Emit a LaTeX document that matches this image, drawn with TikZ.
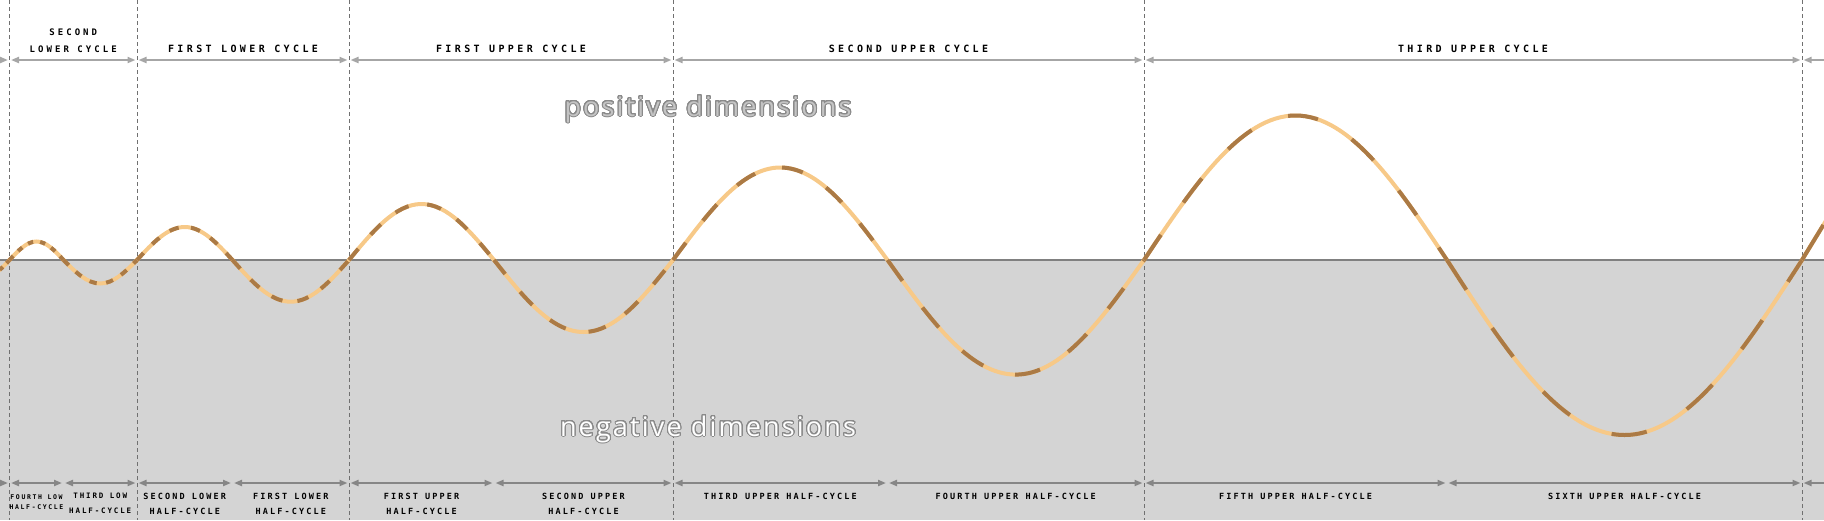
\documentclass[tikz,border=0pt]{standalone}
\usepackage{fontspec}
\usepackage{contour}
\usetikzlibrary{arrows.meta, positioning, calc}

\setmainfont{Open Sans}
\newfontfamily\bigfont[LetterSpace=8]{Open Sans}         % 正负区域大字
\newfontfamily\topfont[LetterSpace=34]{DejaVu Sans Mono} % 顶部周期标注
\newfontfamily\botfont[LetterSpace=25]{DejaVu Sans Mono} % 底部半周期标注

\definecolor{waveLight}{HTML}{F7C988}
\definecolor{waveDark}{HTML}{AB7A45}
\definecolor{negFill}{HTML}{D4D4D4}
\definecolor{axisGrey}{HTML}{808080}
\definecolor{guideGrey}{HTML}{707070}
\definecolor{topArrow}{HTML}{A6A6A6}
\definecolor{botArrow}{HTML}{868686}
\definecolor{posFill}{HTML}{C4C4C4}
\definecolor{textEdge}{HTML}{8A8A8A}

\contourlength{1pt}
\contournumber{40}

\tikzset{
  guide/.style={guideGrey, line width=1pt, dash pattern=on 4pt off 3pt},      % 竖向虚线
  toparrow/.style={topArrow, line width=2pt,
    arrows={Triangle[length=8pt,width=6pt]-Triangle[length=8pt,width=6pt]},
    shorten <=1.5pt, shorten >=1.5pt},
  botarrow/.style={toparrow, botArrow},
  cyclelabel/.style={font=\topfont\bfseries\fontsize{10}{16.6}\selectfont,
    anchor=base, align=center, inner sep=0pt},  % 多行时 base 为末行基线
  halflabel/.style={font=\botfont\bfseries\fontsize{8.5}{15}\selectfont,
    anchor=base, align=center, inner sep=0pt},
  wavebase/.style={waveLight, line width=4pt},
  wavedash/.style={waveDark, line width=4pt},
  bigtext/.style={font=\bigfont\fontsize{27}{30}\selectfont, anchor=base, inner sep=0pt},
}

\begin{document}
\begin{tikzpicture}[x=1pt, y=-1pt] % 像素坐标, y 向下
\useasboundingbox (0,0) rectangle (1824,520);
\begin{scope}
\clip (0,0) rectangle (1824,520);

% 负半区灰底和横轴
\fill[negFill] (0,260) rectangle (1824,520);
\draw[axisGrey, line width=1.5pt] (0,260) -- (1824,260);

% 竖向分界虚线
\foreach \x in {9.5,137,349,673,1144,1802}
  \draw[guide] (\x,0) -- (\x,520);

% 分界点坐标
\foreach \x [count=\i] in {-60,9.5,137,349,673,1144,1802,2300}
  \coordinate (top\i) at (\x,60);
\foreach \x [count=\i] in {-40,9.5,63.5,137,232.5,349,494,673,887.5,1144,1447,1802,2300}
  \coordinate (bot\i) at (\x,483);

% 双向箭头
\foreach \i [evaluate=\i as \j using int(\i+1)] in {1,...,7}
  \draw[toparrow] (top\i) -- (top\j);
\foreach \i [evaluate=\i as \j using int(\i+1)] in {1,...,12}
  \draw[botarrow] (bot\i) -- (bot\j);

% 波形: 每个半周期 sin + cos, 虚线随半周期长度缩放
\foreach \xa/\xb/\amp in {-32/9.5/14.5, 9.5/63.5/-18.5, 63.5/137/23.5, 137/232.5/-33,
    232.5/349/41.7, 349/494/-56, 494/673/72, 673/887.5/-92.5, 887.5/1144/114.6,
    1144/1447/-144.5, 1447/1802/175, 1802/2212/-215}{
  \pgfmathsetmacro\dashon{0.10*(\xb-\xa)}
  \pgfmathsetmacro\dashoff{0.13*(\xb-\xa)}
  \draw[wavebase] (\xa,260) sin ({(\xa+\xb)/2},{260+\amp}) cos (\xb,260);
  \draw[wavedash, dash pattern=on \dashon pt off \dashoff pt]
    (\xa,260) sin ({(\xa+\xb)/2},{260+\amp}) cos (\xb,260);
}
\end{scope}

% 顶部周期标注
\node[cyclelabel, font=\topfont\bfseries\fontsize{9}{16.6}\selectfont]
  (secondLower) at ($(top2)!0.5!(top3)+(0,-8)$) {SECOND\\LOWER CYCLE};
\node[cyclelabel] (firstLower)  at ($(top3)!0.5!(top4)+(0,-8)$) {FIRST LOWER CYCLE};
\node[cyclelabel] (firstUpper)  at ($(top4)!0.5!(top5)+(0,-8)$) {FIRST UPPER CYCLE};
\node[cyclelabel] (secondUpper) at ($(top5)!0.5!(top6)+(0,-8)$) {SECOND UPPER CYCLE};
\node[cyclelabel] (thirdUpper)  at ($(top6)!0.5!(top7)+(0,-8)$) {THIRD UPPER CYCLE};

% 底部半周期标注
\node[halflabel, font=\botfont\bfseries\fontsize{6.5}{10}\selectfont]
  (fourthLow) at ($(bot2)!0.5!(bot3)+(0,26)$) {FOURTH LOW\\HALF-CYCLE};
\node[halflabel, font=\botfont\bfseries\fontsize{7.5}{15}\selectfont]
  (thirdLow) at ($(bot3)!0.5!(bot4)+(0,30.5)$) {THIRD LOW\\HALF-CYCLE};
\node[halflabel] (secondLowerHalf) at ($(bot4)!0.5!(bot5)+(0,31)$) {SECOND LOWER\\HALF-CYCLE};
\node[halflabel] (firstLowerHalf)  at ($(bot5)!0.5!(bot6)+(0,31)$) {FIRST LOWER\\HALF-CYCLE};
\node[halflabel] (firstUpperHalf)  at ($(bot6)!0.5!(bot7)+(0,31)$) {FIRST UPPER\\HALF-CYCLE};
\node[halflabel] (secondUpperHalf) at ($(bot7)!0.5!(bot8)+(0,31)$) {SECOND UPPER\\HALF-CYCLE};
\node[halflabel] (thirdUpperHalf)  at ($(bot8)!0.5!(bot9)+(0,16)$) {THIRD UPPER HALF-CYCLE};
\node[halflabel] (fourthUpperHalf) at ($(bot9)!0.5!(bot10)+(0,16)$) {FOURTH UPPER HALF-CYCLE};
\node[halflabel] (fifthUpperHalf)  at ($(bot10)!0.5!(bot11)+(0,16)$) {FIFTH UPPER HALF-CYCLE};
\node[halflabel] (sixthUpperHalf)  at ($(bot11)!0.5!(bot12)+(0,16)$) {SIXTH UPPER HALF-CYCLE};

% 正负区域文字
\node[bigtext, text=posFill] (posDim) at (708,116) {\contour{textEdge}{positive dimensions}};
\node[bigtext, text=white]   (negDim) at (708,436) {\contour{textEdge}{negative dimensions}};
\end{tikzpicture}
\end{document}
